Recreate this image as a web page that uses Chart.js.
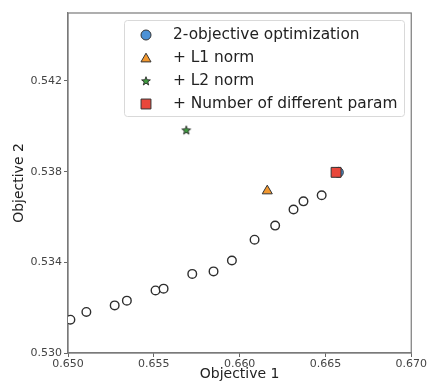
<!DOCTYPE html>
<html>
<head>
<meta charset="utf-8">
<script src="https://cdn.jsdelivr.net/npm/chart.js@4/dist/chart.umd.min.js"></script>
<style>
  html, body { margin: 0; padding: 0; background: #fff; }
  #wrap { width: 428px; height: 383px; }
</style>
</head>
<body>
<div id="wrap"><canvas id="paretoChart" width="428" height="383"></canvas></div>
<script>
// pareto front of the sweep (hollow circles)
var frontX = [0.65014, 0.65107, 0.65272, 0.65343, 0.65510, 0.65557, 0.65724,
              0.65848, 0.65955, 0.66087, 0.66207, 0.66314, 0.66372, 0.66478];
var frontY = [0.53147, 0.53181, 0.53210, 0.53231, 0.53276, 0.53284, 0.53349,
              0.53360, 0.53408, 0.53500, 0.53562, 0.53633, 0.53669, 0.53696];

// single runs
var labels = ["2-objective optimization", "+ L1 norm", "+ L2 norm", "+ Number of different param"];
var runX = [0.66575, 0.66161, 0.65689, 0.66562];
var runY = [0.53797, 0.53715, 0.53983, 0.53797];

var xTicks = [0.650, 0.655, 0.660, 0.665, 0.670];
var yTicks = [0.530, 0.534, 0.538, 0.542];

function pts(xs, ys) {
    return xs.map(function (x, i) { return { x: x, y: ys[i] }; });
}

// filled star marker (chart.js "star" is only lines)
var star = document.createElement("canvas");
star.width = 12;
star.height = 12;
(function () {
    var c = star.getContext("2d");
    c.beginPath();
    for (var i = 0; i < 10; i++) {
        var r = i % 2 ? 1.9 : 4.6;
        var a = -Math.PI / 2 + i * Math.PI / 5;
        c.lineTo(6 + r * Math.cos(a), 6.3 + r * Math.sin(a));
    }
    c.closePath();
    c.fillStyle = "#3f9c3f";
    c.fill();
    c.lineWidth = 0.9;
    c.strokeStyle = "#2a2a2a";
    c.stroke();
})();

var edge = "#333333";
var styles = [
    { pointStyle: "circle", backgroundColor: "#4d92d6", radius: 5 },
    { pointStyle: "triangle", backgroundColor: "#f2982f", radius: 5.8 },
    { pointStyle: star, backgroundColor: "#3f9c3f", radius: 5 },
    { pointStyle: "rect", backgroundColor: "#e8473b", radius: 7 },
];

var runSets = labels.map(function (lab, i) {
    return {
        label: lab,
        data: [{ x: runX[i], y: runY[i] }],
        pointStyle: styles[i].pointStyle,
        backgroundColor: styles[i].backgroundColor,
        borderColor: edge,
        borderWidth: 1,
        pointRadius: styles[i].radius,
        order: i === 0 ? 5 : 1,
    };
});

var datasets = runSets.concat([
    {
        label: "front",
        data: pts(frontX, frontY),
        pointStyle: "circle",
        backgroundColor: "#ffffff",
        borderColor: "#2e2e2e",
        borderWidth: 1.4,
        pointRadius: 4.3,
        order: 6,
    },
]);

var legendBox = {
    id: "legendBox",
    afterDraw: function (chart) {
        var ctx = chart.ctx;
        ctx.save();
        ctx.beginPath();
        ctx.roundRect(124.5, 20.5, 280, 96, 3);
        ctx.fillStyle = "rgba(255,255,255,0.85)";
        ctx.fill();
        ctx.strokeStyle = "#d9d9d9";
        ctx.lineWidth = 1;
        ctx.stroke();
        runSets.forEach(function (ds, i) {
            var y = 35 + i * 23;
            ctx.fillStyle = ds.backgroundColor;
            ctx.strokeStyle = ds.borderColor;
            ctx.lineWidth = ds.borderWidth;
            Chart.helpers.drawPoint(ctx, {
                pointStyle: ds.pointStyle,
                radius: ds.pointRadius,
                borderWidth: ds.borderWidth,
                rotation: 0,
            }, 146, ds.pointStyle === "triangle" ? y + 1 : y);
            ctx.fillStyle = "#222";
            ctx.font = '15.4px "DejaVu Sans"';
            ctx.textBaseline = "middle";
            ctx.textAlign = "left";
            ctx.fillText(ds.label, 173, y);
        });
        ctx.restore();
    },
};

// matplotlib style box: top and right spines too
var frame = {
    id: "frame",
    beforeDatasetsDraw: function (chart) {
        var a = chart.chartArea;
        var ctx = chart.ctx;
        ctx.save();
        ctx.strokeStyle = "#7a7a7a";
        ctx.lineWidth = 1.2;
        ctx.strokeRect(a.left, a.top, a.right - a.left, a.bottom - a.top);
        ctx.restore();
    },
};

var paretoChart = new Chart(document.getElementById("paretoChart").getContext("2d"), {
    type: "scatter",
    data: { datasets: datasets },
    options: {
        responsive: false,
        animation: false,
        events: [],
        layout: { padding: { left: 0, top: 13, right: 16, bottom: 0 } },
        plugins: {
            legend: { display: false },
            tooltip: { enabled: false },
        },
        scales: {
            x: {
                type: "linear",
                min: 0.65,
                max: 0.67,
                afterBuildTicks: function (axis) {
                    axis.ticks = xTicks.map(function (v) { return { value: v }; });
                },
                afterFit: function (axis) { axis.height = 30; },
                ticks: {
                    callback: function (v) { return v.toFixed(3); },
                    font: { family: "DejaVu Sans", size: 11 },
                    color: "#444",
                    padding: 1,
                    maxRotation: 0,
                },
                grid: { drawOnChartArea: false, tickLength: 4, color: "#666" },
                border: { color: "#7a7a7a", width: 1.2 },
                title: {
                    display: true,
                    text: "Objective 1",
                    font: { family: "DejaVu Sans", size: 14 },
                    color: "#222",
                    padding: { top: 0, bottom: 0 },
                },
            },
            y: {
                type: "linear",
                min: 0.53,
                max: 0.545,
                afterBuildTicks: function (axis) {
                    axis.ticks = yTicks.map(function (v) { return { value: v }; });
                },
                afterFit: function (axis) { axis.width = 68; },
                ticks: {
                    callback: function (v) { return v.toFixed(3); },
                    font: { family: "DejaVu Sans", size: 11 },
                    color: "#444",
                    padding: 2,
                },
                grid: { drawOnChartArea: false, tickLength: 4, color: "#666" },
                border: { color: "#7a7a7a", width: 1.2 },
                title: {
                    display: true,
                    text: "Objective 2",
                    font: { family: "DejaVu Sans", size: 14 },
                    color: "#222",
                    padding: { top: 11, bottom: 0 },
                },
            },
        },
    },
    plugins: [frame, legendBox],
});
</script>
</body>
</html>
